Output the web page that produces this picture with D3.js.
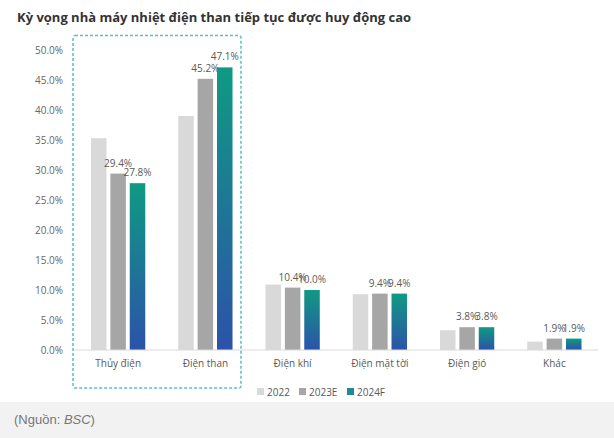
<!DOCTYPE html>
<html>
<head>
<meta charset="utf-8">
<script src="https://cdn.jsdelivr.net/npm/d3@7"></script>
<style>
  body { margin: 0; background: #fff; }
  svg { display: block; }
</style>
</head>
<body>
<script>
// data
const categories = ["Thủy điện", "Điện than", "Điện khí", "Điện mặt tời", "Điện gió", "Khác"];
const seriesNames = ["2022", "2023E", "2024F"];
const v2022 = [35.3, 39.0, 10.9, 9.3, 3.3, 1.4];
const v2023E = [29.4, 45.2, 10.4, 9.4, 3.8, 1.9];
const v2024F = [27.8, 47.1, 10.0, 9.4, 3.8, 1.9];
const yTicks = [0, 5, 10, 15, 20, 25, 30, 35, 40, 45, 50];

const series = [v2022, v2023E, v2024F];
const fills = ["#d9d9d9", "#a6a6a6", "url(#grad)"];
const legendFills = ["#d9d9d9", "#a6a6a6", "#1f8a8f"];

const W = 614, H = 438;
const svg = d3.select("body").append("svg").attr("width", W).attr("height", H);

const defs = svg.append("defs");
const grad = defs.append("linearGradient").attr("id", "grad")
  .attr("x1", 0).attr("y1", 0).attr("x2", 0).attr("y2", 1);
grad.append("stop").attr("offset", "0%").attr("stop-color", "#0f9a82");
grad.append("stop").attr("offset", "100%").attr("stop-color", "#2c52aa");

// title
svg.append("text")
  .attr("x", 17).attr("y", 22)
  .attr("font-family", "Open Sans").attr("font-weight", "bold")
  .attr("font-size", 13).attr("fill", "#333")
  .text("Kỳ vọng nhà máy nhiệt điện than tiếp tục được huy động cao");

const x = d3.scaleBand().domain(categories).range([74.5, 598]).paddingInner(0).paddingOuter(0);
const x1 = d3.scaleBand().domain(seriesNames).range([0, x.bandwidth()]).paddingInner(0.2).paddingOuter(0.85);
const y = d3.scaleLinear().domain([0, 50]).range([350, 50]);

// y axis labels
const yAxis = d3.axisLeft(y).tickValues(yTicks).tickSize(0).tickPadding(0)
  .tickFormat(d => d.toFixed(1) + "%");
const ga = svg.append("g").attr("transform", "translate(63,0)").call(yAxis);
ga.select(".domain").remove();
ga.selectAll("text").attr("font-family", "Open Sans").attr("font-size", 10).attr("fill", "#666");

// bars
const gCat = svg.append("g").selectAll("g").data(categories).join("g")
  .attr("transform", d => `translate(${x(d)},0)`);

seriesNames.forEach((s, si) => {
  gCat.append("rect")
    .attr("x", x1(s))
    .attr("width", x1.bandwidth())
    .attr("y", (d, i) => y(series[si][i]))
    .attr("height", (d, i) => y(0) - y(series[si][i]))
    .attr("fill", fills[si]);
  if (si > 0) {
    gCat.append("text")
      .attr("x", x1(s) + x1.bandwidth() / 2)
      .attr("y", (d, i) => y(series[si][i]) - 7)
      .attr("text-anchor", "middle")
      .attr("font-family", "Open Sans").attr("font-size", 10).attr("fill", "#595959")
      .text((d, i) => series[si][i].toFixed(1) + "%");
  }
});

// baseline
svg.append("line").attr("x1", 74.5).attr("x2", 598).attr("y1", y(0)).attr("y2", y(0))
  .attr("stroke", "#d9d9d9").attr("stroke-width", 1);

// category labels
const xAxis = d3.axisBottom(x).tickSize(0).tickPadding(0);
const gx = svg.append("g").attr("transform", `translate(0,${y(0) + 10})`).call(xAxis);
gx.select(".domain").remove();
gx.selectAll("text").attr("font-family", "Open Sans").attr("font-size", 10).attr("fill", "#595959");

// legend
const legX = [257, 299, 347];
const leg = svg.append("g").selectAll("g").data(seriesNames).join("g")
  .attr("transform", (d, i) => `translate(${legX[i]},388)`);
leg.append("rect").attr("width", 7).attr("height", 7).attr("fill", (d, i) => legendFills[i]);
leg.append("text").attr("x", 10).attr("y", 7.5)
  .attr("font-family", "Open Sans").attr("font-size", 10).attr("fill", "#595959")
  .text(d => d);

// highlight box
svg.append("rect")
  .attr("x", 73).attr("y", 35.5).attr("width", 168).attr("height", 352.5)
  .attr("rx", 2)
  .attr("fill", "none").attr("stroke", "#5cc0bd").attr("stroke-width", 1.5)
  .attr("stroke-dasharray", "3,2");

// source band
svg.append("rect").attr("x", 0).attr("y", 402).attr("width", W).attr("height", 36).attr("fill", "#f2f2f2");
const src = svg.append("text").attr("x", 14).attr("y", 424)
  .attr("font-family", "Liberation Sans").attr("font-size", 13).attr("fill", "#777");
src.append("tspan").text("(Nguồn: ");
src.append("tspan").attr("font-style", "italic").text("BSC");
src.append("tspan").text(")");
</script>
</body>
</html>
